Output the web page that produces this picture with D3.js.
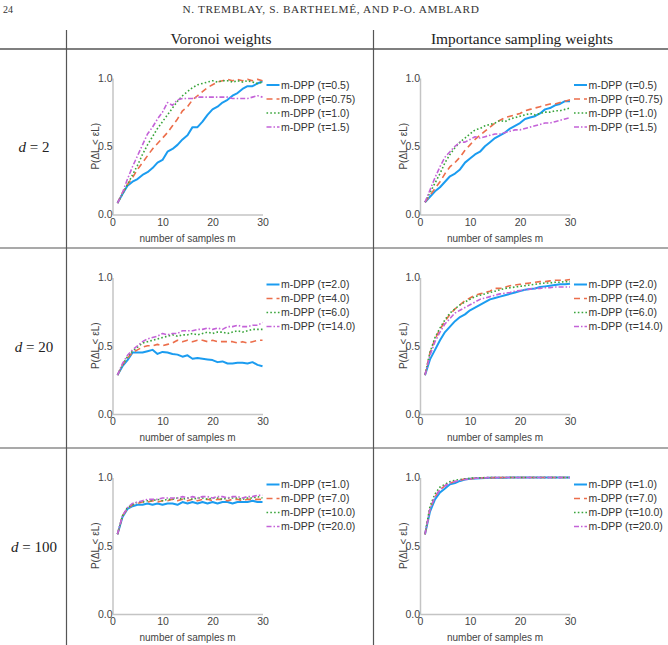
<!DOCTYPE html>
<html>
<head>
<meta charset="utf-8">
<script src="https://cdn.jsdelivr.net/npm/d3@7"></script>
<style>
 body{margin:0;background:#fff;}
 svg{display:block;}
</style>
</head>
<body>
<div id="chart"></div>
<script>
// number of samples m (x values)
const mValues = [1,2,3,4,5,6,7,8,9,10,11,12,13,14,15,16,17,18,19,20,21,22,23,24,25,26,27,28,29,30];
const xTicks = [0,10,20,30];
const yTicks = [0,0.5,1];

// legend labels per row (tau values)
const tauD2 = ['0.5','0.75','1.0','1.5'];
const tauD20 = ['2.0','4.0','6.0','14.0'];
const tauD100 = ['1.0','7.0','10.0','20.0'];

const rowLabels = ['2','20','100'];
const colTitles = ['Voronoi weights','Importance sampling weights'];

// each panel: four series in legend order
const voronoiD2 = [
 [0.084,0.15,0.21,0.24,0.26,0.29,0.31,0.34,0.38,0.40,0.46,0.48,0.51,0.55,0.58,0.64,0.64,0.68,0.73,0.77,0.79,0.82,0.84,0.87,0.89,0.92,0.94,0.94,0.96,0.975],
 [0.084,0.16,0.22,0.27,0.33,0.38,0.43,0.48,0.52,0.56,0.60,0.65,0.70,0.76,0.79,0.84,0.87,0.90,0.93,0.95,0.97,0.98,0.99,0.98,0.99,0.98,0.99,0.98,0.99,0.98],
 [0.084,0.15,0.22,0.29,0.36,0.44,0.51,0.57,0.63,0.68,0.73,0.78,0.83,0.87,0.90,0.93,0.95,0.96,0.97,0.98,0.97,0.98,0.98,0.97,0.98,0.97,0.98,0.97,0.96,0.97],
 [0.084,0.16,0.26,0.35,0.43,0.51,0.59,0.64,0.70,0.75,0.82,0.80,0.84,0.85,0.85,0.85,0.86,0.86,0.86,0.86,0.86,0.86,0.86,0.85,0.85,0.85,0.85,0.86,0.87,0.86]
];
const isD2 = [
 [0.09,0.13,0.17,0.20,0.24,0.28,0.30,0.33,0.38,0.41,0.44,0.46,0.50,0.53,0.56,0.58,0.60,0.63,0.65,0.67,0.70,0.71,0.72,0.74,0.77,0.78,0.80,0.81,0.83,0.83],
 [0.09,0.14,0.19,0.24,0.30,0.35,0.38,0.42,0.47,0.51,0.55,0.58,0.61,0.64,0.67,0.69,0.71,0.72,0.73,0.74,0.76,0.77,0.78,0.79,0.80,0.81,0.81,0.82,0.83,0.84],
 [0.09,0.16,0.23,0.30,0.38,0.44,0.49,0.53,0.56,0.59,0.62,0.63,0.65,0.66,0.67,0.69,0.68,0.70,0.71,0.72,0.73,0.74,0.73,0.74,0.75,0.75,0.76,0.76,0.77,0.78],
 [0.09,0.18,0.27,0.35,0.42,0.46,0.50,0.53,0.53,0.55,0.57,0.56,0.57,0.58,0.59,0.59,0.60,0.61,0.62,0.62,0.63,0.64,0.65,0.66,0.67,0.67,0.68,0.69,0.70,0.71]
];
const voronoiD20 = [
 [0.285,0.35,0.395,0.45,0.45,0.45,0.46,0.47,0.44,0.455,0.45,0.44,0.435,0.42,0.43,0.405,0.41,0.405,0.40,0.395,0.38,0.385,0.37,0.37,0.375,0.375,0.37,0.38,0.36,0.35],
 [0.285,0.36,0.41,0.45,0.47,0.49,0.50,0.50,0.51,0.50,0.51,0.52,0.54,0.53,0.54,0.53,0.54,0.54,0.53,0.54,0.53,0.53,0.53,0.53,0.52,0.53,0.52,0.53,0.54,0.54],
 [0.285,0.36,0.42,0.46,0.49,0.52,0.53,0.54,0.55,0.56,0.57,0.58,0.57,0.58,0.58,0.59,0.58,0.59,0.60,0.59,0.60,0.60,0.59,0.60,0.61,0.60,0.61,0.62,0.62,0.62],
 [0.285,0.37,0.43,0.47,0.50,0.53,0.55,0.56,0.57,0.59,0.58,0.59,0.59,0.61,0.61,0.61,0.62,0.62,0.63,0.62,0.63,0.62,0.64,0.64,0.65,0.64,0.64,0.65,0.65,0.67]
];
const isD20 = [
 [0.285,0.40,0.47,0.54,0.60,0.64,0.68,0.71,0.73,0.76,0.78,0.80,0.82,0.84,0.85,0.86,0.87,0.88,0.89,0.90,0.91,0.915,0.92,0.93,0.935,0.94,0.945,0.95,0.95,0.955],
 [0.285,0.45,0.55,0.62,0.68,0.73,0.77,0.80,0.83,0.85,0.87,0.88,0.89,0.90,0.92,0.92,0.93,0.94,0.945,0.95,0.955,0.96,0.965,0.97,0.97,0.975,0.98,0.98,0.98,0.985],
 [0.285,0.45,0.56,0.63,0.69,0.74,0.77,0.80,0.82,0.84,0.86,0.87,0.88,0.89,0.90,0.91,0.92,0.925,0.93,0.935,0.94,0.945,0.95,0.955,0.96,0.96,0.965,0.965,0.97,0.97],
 [0.285,0.43,0.53,0.60,0.66,0.70,0.74,0.76,0.78,0.80,0.82,0.84,0.85,0.86,0.87,0.88,0.885,0.89,0.90,0.905,0.91,0.915,0.92,0.92,0.925,0.925,0.93,0.93,0.93,0.93]
];
const voronoiD100 = [
 [0.584,0.71,0.77,0.79,0.80,0.80,0.81,0.80,0.81,0.80,0.81,0.81,0.80,0.82,0.81,0.82,0.81,0.82,0.81,0.82,0.81,0.82,0.82,0.81,0.82,0.82,0.82,0.83,0.82,0.82],
 [0.584,0.72,0.77,0.80,0.81,0.82,0.82,0.83,0.82,0.83,0.83,0.84,0.83,0.84,0.83,0.84,0.83,0.84,0.84,0.83,0.84,0.84,0.83,0.84,0.84,0.83,0.84,0.84,0.84,0.84],
 [0.584,0.72,0.78,0.80,0.82,0.82,0.83,0.83,0.84,0.83,0.84,0.84,0.85,0.84,0.85,0.84,0.85,0.85,0.84,0.85,0.85,0.84,0.85,0.85,0.85,0.84,0.85,0.85,0.86,0.85],
 [0.584,0.72,0.78,0.81,0.82,0.83,0.84,0.84,0.84,0.85,0.85,0.85,0.85,0.86,0.85,0.86,0.85,0.86,0.86,0.85,0.86,0.86,0.85,0.86,0.86,0.85,0.86,0.86,0.87,0.87]
];
const isD100 = [
 [0.584,0.75,0.84,0.89,0.92,0.95,0.96,0.975,0.985,0.99,0.993,0.995,0.997,0.998,0.998,0.999,0.999,1,1,1,1,1,1,1,1,1,1,1,1,1],
 [0.584,0.77,0.86,0.91,0.94,0.96,0.97,0.98,0.99,0.99,0.995,0.997,0.998,0.998,0.999,0.999,1,1,1,1,1,1,1,1,1,1,1,1,1,1],
 [0.584,0.79,0.88,0.93,0.95,0.97,0.98,0.985,0.99,0.995,0.997,0.998,0.999,0.999,1,1,1,1,1,1,1,1,1,1,1,1,1,1,1,1],
 [0.584,0.77,0.86,0.91,0.94,0.96,0.97,0.98,0.985,0.99,0.994,0.996,0.998,0.999,0.999,1,1,1,1,1,1,1,1,1,1,1,1,1,1,1]
];

const panels = [
 {row:0,col:0,data:voronoiD2,tau:tauD2},
 {row:0,col:1,data:isD2,tau:tauD2},
 {row:1,col:0,data:voronoiD20,tau:tauD20},
 {row:1,col:1,data:isD20,tau:tauD20},
 {row:2,col:0,data:voronoiD100,tau:tauD100},
 {row:2,col:1,data:isD100,tau:tauD100}
];

// line styles for the four series
const seriesStyle = [
 {color:'#1b9cf0',width:2,dash:null},
 {color:'#ec6e4b',width:1.6,dash:'6,4'},
 {color:'#3aa53c',width:1.6,dash:'1.6,2.2'},
 {color:'#c463d8',width:1.6,dash:'5,2,1.5,2'}
];

const W = 668, H = 645;
const colX = [112.5, 420];
const rowY = [78, 277.5, 477.5];
const plotW = 150, plotH = 136.5;
const sans = 'Liberation Sans, Arial, sans-serif';

const svg = d3.select('#chart').append('svg')
    .attr('width', W)
    .attr('height', H);

// page header
svg.append('text')
    .attr('x', 3).attr('y', 13)
    .style('font-family','Liberation Serif, serif')
    .style('font-size','10px')
    .attr('fill','#333')
    .text('24');

svg.append('text')
    .attr('x', 331).attr('y', 13)
    .attr('text-anchor','middle')
    .style('font-family','Liberation Serif, serif')
    .style('font-size','11.3px')
    .style('letter-spacing','0.6px')
    .attr('fill','#333')
    .text('N. TREMBLAY, S. BARTHELMÉ, AND P-O. AMBLARD');

// table rules
const rules = svg.append('g').attr('stroke','#555').attr('stroke-width',1.2);
rules.append('line').attr('x1',0).attr('x2',W).attr('y1',49).attr('y2',49).attr('stroke-width',1.6);
rules.append('line').attr('x1',0).attr('x2',W).attr('y1',248).attr('y2',248);
rules.append('line').attr('x1',0).attr('x2',W).attr('y1',448).attr('y2',448);
rules.append('line').attr('x1',66.5).attr('x2',66.5).attr('y1',30).attr('y2',H);
rules.append('line').attr('x1',373.5).attr('x2',373.5).attr('y1',30).attr('y2',H);

// column titles
svg.selectAll('.col-title')
    .data(colTitles)
    .join('text')
    .attr('class','col-title')
    .attr('x',(d,i)=>[221,522][i])
    .attr('y',44)
    .attr('text-anchor','middle')
    .style('font-family','Liberation Serif, serif')
    .style('font-size','15.4px')
    .attr('fill','#222')
    .text(d=>d);

// row labels d = ...
const rowText = svg.selectAll('.row-label')
    .data(rowLabels)
    .join('text')
    .attr('class','row-label')
    .attr('x',34)
    .attr('y',(d,i)=>[152,352,552][i])
    .attr('text-anchor','middle')
    .style('font-family','Liberation Serif, serif')
    .style('font-size','15px')
    .attr('fill','#222');
rowText.append('tspan').style('font-style','italic').text('d');
rowText.append('tspan').text(d=>' = '+d);

const xScale = d3.scaleLinear().domain([0,30]).range([0,plotW]);
const yScale = d3.scaleLinear().domain([0,1]).range([plotH,0]);

panels.forEach(p=>{
 const g = svg.append('g')
     .attr('transform',`translate(${colX[p.col]},${rowY[p.row]})`);

 // axes: only left and bottom line, labels without tick marks
 const xAxis = d3.axisBottom(xScale).tickValues(xTicks).tickSize(0).tickPadding(4).tickFormat(d3.format('d'));
 const yAxis = d3.axisLeft(yScale).tickValues(yTicks).tickSize(0).tickPadding(0).tickFormat(d3.format('.1f'));

 const gx = g.append('g').attr('transform',`translate(0,${plotH})`).call(xAxis);
 const gy = g.append('g').call(yAxis);
 [gx,gy].forEach(a=>{
  a.select('.domain').attr('stroke','#c4c4c4').attr('stroke-width',1.5);
  a.selectAll('text')
      .style('font-family',sans)
      .style('font-size','10.5px')
      .attr('fill','#444');
 });

 const line = d3.line()
     .x((d,i)=>xScale(mValues[i]))
     .y(d=>yScale(d));

 g.selectAll('.series')
     .data(p.data)
     .join('path')
     .attr('class','series')
     .attr('fill','none')
     .attr('stroke',(d,i)=>seriesStyle[i].color)
     .attr('stroke-width',(d,i)=>seriesStyle[i].width)
     .attr('stroke-dasharray',(d,i)=>seriesStyle[i].dash)
     .attr('stroke-linejoin','round')
     .attr('d',line);

 // axis titles
 g.append('text')
     .attr('x',plotW/2)
     .attr('y',plotH+27)
     .attr('text-anchor','middle')
     .style('font-family',sans)
     .style('font-size','10px')
     .attr('fill','#444')
     .text('number of samples m');

 g.append('text')
     .attr('transform',`translate(-13.5,${plotH/2}) rotate(-90)`)
     .attr('text-anchor','middle')
     .style('font-family',sans)
     .style('font-size','10px')
     .attr('fill','#444')
     .text('P(ΔL < εL)');

 // legend
 const legend = g.append('g').attr('transform',`translate(${plotW+4},0)`);
 p.tau.forEach((t,i)=>{
  const yy = 7 + i*14;
  legend.append('line')
      .attr('x1',0).attr('x2',13)
      .attr('y1',yy).attr('y2',yy)
      .attr('stroke',seriesStyle[i].color)
      .attr('stroke-width',seriesStyle[i].width)
      .attr('stroke-dasharray',seriesStyle[i].dash);
  legend.append('text')
      .attr('x',14.5).attr('y',yy)
      .attr('dy','0.35em')
      .style('font-family',sans)
      .style('font-size','10.5px')
      .attr('fill','#333')
      .text(`m-DPP (τ=${t})`);
 });
});
</script>
</body>
</html>
